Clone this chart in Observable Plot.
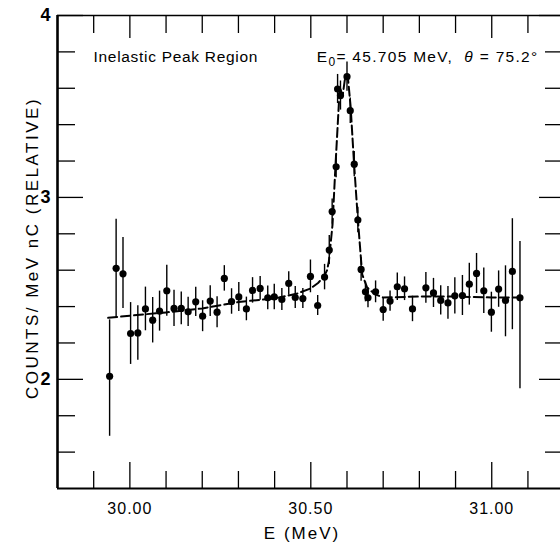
<!DOCTYPE html>
<html><head><meta charset="utf-8">
<script src="https://cdn.jsdelivr.net/npm/d3@7"></script>
<script src="https://cdn.jsdelivr.net/npm/@observablehq/plot@0.6"></script>
<style>html,body{margin:0;padding:0;background:#fff;overflow:hidden}svg{display:block}</style>
</head><body><div id="chart"></div>
<script>
// Measured spectrum (E in MeV, counts per MeV nC relative)
const energy = [29.944,29.962,29.981,30.002,30.022,30.043,30.063,30.082,30.102,30.122,30.142,30.161,30.182,30.201,30.222,30.241,30.261,30.281,30.301,30.322,30.339,30.360,30.381,30.399,30.420,30.439,30.457,30.478,30.499,30.519,30.538,30.551,30.559,30.570,30.574,30.582,30.600,30.609,30.620,30.630,30.639,30.651,30.658,30.679,30.700,30.719,30.739,30.759,30.781,30.818,30.839,30.859,30.879,30.898,30.919,30.938,30.958,30.978,30.999,31.019,31.038,31.057,31.078];
const counts = [2.017,2.610,2.580,2.252,2.255,2.387,2.325,2.375,2.487,2.390,2.390,2.371,2.426,2.347,2.430,2.369,2.555,2.428,2.453,2.387,2.489,2.500,2.448,2.453,2.439,2.527,2.450,2.444,2.566,2.406,2.562,2.711,2.922,3.168,3.596,3.560,3.664,3.477,3.183,2.876,2.604,2.481,2.448,2.481,2.384,2.430,2.509,2.498,2.387,2.503,2.475,2.434,2.420,2.459,2.461,2.523,2.582,2.487,2.369,2.496,2.434,2.593,2.448];
const errUp = [0.31,0.27,0.20,0.17,0.15,0.12,0.125,0.11,0.14,0.10,0.09,0.08,0.08,0.085,0.085,0.085,0.07,0.07,0.08,0.065,0.07,0.065,0.065,0.07,0.06,0.065,0.06,0.055,0.09,0.055,0.07,0.08,0.07,0.06,0.08,0.08,0.08,0.07,0.07,0.07,0.065,0.055,0.055,0.06,0.065,0.055,0.075,0.065,0.07,0.085,0.08,0.08,0.09,0.10,0.11,0.115,0.11,0.125,0.11,0.10,0.19,0.29,0.31];
const errDn = [0.33,0.27,0.19,0.17,0.15,0.12,0.125,0.11,0.14,0.10,0.09,0.08,0.08,0.085,0.085,0.085,0.07,0.07,0.08,0.065,0.07,0.065,0.065,0.07,0.06,0.065,0.06,0.055,0.09,0.055,0.07,0.08,0.07,0.06,0.08,0.08,0.08,0.07,0.07,0.07,0.065,0.055,0.055,0.06,0.065,0.055,0.075,0.065,0.07,0.085,0.08,0.08,0.09,0.10,0.11,0.115,0.11,0.125,0.11,0.10,0.20,0.32,0.50];
// Fitted line shape (dashed)
const fitEnergy = [29.94,30.00,30.10,30.20,30.30,30.40,30.46,30.50,30.52,30.535,30.545,30.55,30.56,30.568,30.58,30.588,30.595,30.602,30.61,30.619,30.63,30.642,30.656,30.678,30.70,30.80,30.90,31.00,31.08];
const fitCounts = [2.338,2.350,2.368,2.390,2.425,2.445,2.470,2.500,2.530,2.560,2.600,2.650,2.850,3.168,3.605,3.560,3.660,3.670,3.500,3.201,2.880,2.577,2.503,2.467,2.450,2.455,2.455,2.450,2.450];
// Axis ticks and labels
const xDomain = [29.8, 31.19];
const yDomain = [1.4, 4];
const xMajorTicks = [30.0, 30.5, 31.0];
const xMinorTicks = [29.9,30.1,30.2,30.3,30.4,30.6,30.7,30.8,30.9,31.1];
const yMajorTicks = [2, 3, 4];
const yMinorTicks = [1.6,1.8,2.2,2.4,2.6,2.8,3.2,3.4,3.6,3.8];
const titleLeft = "Inelastic Peak Region";
const titleRight = "E0= 45.705 MeV,  θ = 75.2°";
const xLabel = "E (MeV)";
const yLabel = "COUNTS/ MeV nC (RELATIVE)";

const W = 560, H = 544, mT = 15, mB = 56, mL = 57, mR = 0;
const innerH = H - mT - mB, innerW = W - mL - mR;
const points = energy.map((e, i) => ({e, c: counts[i], lo: counts[i] - errDn[i], hi: counts[i] + errUp[i]}));
const fit = fitEnergy.map((e, i) => ({e, c: fitCounts[i]}));
const font = "Liberation Sans, Arial, sans-serif";

const plot = Plot.plot({
  width: W, height: H, marginTop: mT, marginBottom: mB, marginLeft: mL, marginRight: mR,
  x: {domain: xDomain, label: null},
  y: {domain: yDomain, label: null},
  style: {fontFamily: font, background: "#fff", color: "#000"},
  marks: [
    Plot.axisX({ticks: xMajorTicks, tickSize: 0, tickPadding: 14, tickFormat: d => d.toFixed(2), fontSize: 16, label: null}),
    Plot.axisY({ticks: yMajorTicks, tickSize: 0, tickPadding: 7, tickFormat: d => String(d), fontSize: 18, fontWeight: "bold", label: null}),
    // inward ticks
    Plot.tickX(xMinorTicks, {x: d => d, insetTop: innerH - 17, strokeWidth: 1.3}),
    Plot.tickX(xMajorTicks, {x: d => d, insetTop: innerH - 26, strokeWidth: 1.3}),
    Plot.tickX(xMinorTicks, {x: d => d, insetBottom: innerH - 18, strokeWidth: 1.3}),
    Plot.tickX(xMajorTicks, {x: d => d, insetBottom: innerH - 23, strokeWidth: 1.3}),
    Plot.tickY(yMinorTicks, {y: d => d, insetRight: innerW - 18, strokeWidth: 1.3}),
    Plot.tickY(yMajorTicks, {y: d => d, insetRight: innerW - 26, strokeWidth: 1.3}),
    Plot.tickY(yMinorTicks, {y: d => d, insetLeft: innerW - 15, strokeWidth: 1.3}),
    Plot.tickY(yMajorTicks, {y: d => d, insetLeft: innerW - 21, strokeWidth: 1.3}),
    // frame
    Plot.ruleX([xDomain[0]], {strokeWidth: 2.6}),
    Plot.ruleY([yDomain[0]], {strokeWidth: 2.2}),
    Plot.ruleY([yDomain[1]], {strokeWidth: 1.5}),
    // fit curve
    Plot.line(fit, {x: "e", y: "c", stroke: "#000", strokeWidth: 2, strokeDasharray: "9,4"}),
    // error bars and points
    Plot.ruleX(points, {x: "e", y1: "lo", y2: "hi", strokeWidth: 1.4}),
    Plot.dot(points, {x: "e", y: "c", r: 3.6, fill: "#000", stroke: null}),
    // texts
    Plot.text([titleLeft], {text: d => d, frameAnchor: "top-left", textAnchor: "start", dx: 36, dy: 35, fontSize: 15.5}),
    Plot.text([titleRight], {text: d => d, frameAnchor: "top-right", textAnchor: "end", dx: -22, dy: 35, fontSize: 15.5}),
    Plot.text([xLabel], {text: d => d, frameAnchor: "bottom", textAnchor: "middle", dx: -7, dy: 50, fontSize: 17}),
    Plot.text([yLabel], {text: d => d, frameAnchor: "left", textAnchor: "middle", rotate: -90, dx: -25, dy: -4, fontSize: 17})
  ]
});
document.getElementById("chart").appendChild(plot);
const svg = d3.select(plot);
const byText = s => svg.selectAll("text").filter(function () { return this.textContent === s; });
byText(titleLeft).style("letter-spacing", "0.7px");
byText(xLabel).style("letter-spacing", "2px");
byText(yLabel).style("letter-spacing", "2.5px");
svg.selectAll('g[aria-label="x-axis tick label"] text').style("letter-spacing", "1px");
const tr = byText(titleRight);
tr.text(null).style("letter-spacing", "1.3px");
tr.append("tspan").text("E");
tr.append("tspan").text("0").attr("font-size", "12px").attr("dy", "4");
tr.append("tspan").text("= 45.705 MeV,  ").attr("dy", "-4");
tr.append("tspan").text("θ").attr("font-style", "italic");
tr.append("tspan").text(" = 75.2°");
</script>
</body></html>
